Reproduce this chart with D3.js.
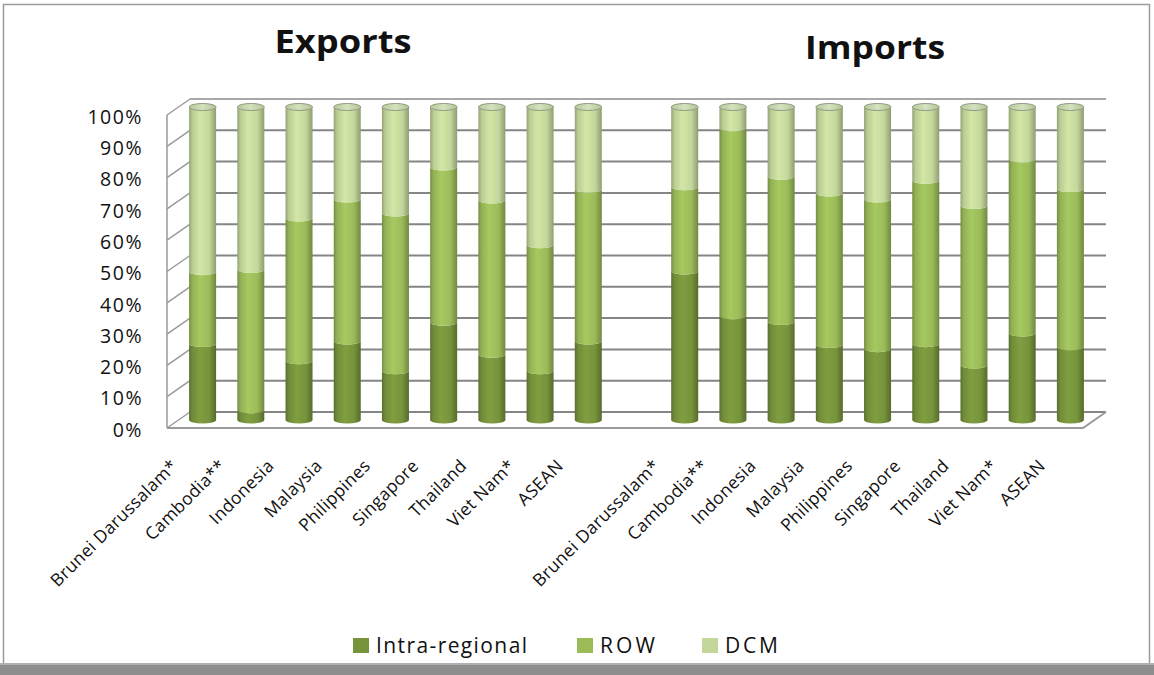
<!DOCTYPE html>
<html>
<head>
<meta charset="utf-8">
<script src="https://cdn.jsdelivr.net/npm/d3@7/dist/d3.min.js"></script>
<style>
  html, body { margin: 0; padding: 0; background: #fff; }
  svg { display: block; }
  text { font-family: "Open Sans", "DejaVu Sans", sans-serif; fill: #111; }
</style>
</head>
<body>
<svg id="chart" width="1154" height="675"></svg>
<script>
// Country groups, one block for exports and one for imports
const countries = ["Brunei Darussalam*", "Cambodia**", "Indonesia", "Malaysia",
                   "Philippines", "Singapore", "Thailand", "Viet Nam*", "ASEAN"];

// Shares of total trade (%), exports
const exportIntra = [24.4, 3.3, 18.9, 25.2, 15.7, 31.2, 21.0, 15.7, 25.2];
const exportROW   = [23.0, 44.8, 45.6, 45.4, 50.4, 49.6, 49.3, 40.3, 48.5];
const exportDCM   = [52.6, 51.9, 35.5, 29.4, 33.9, 19.2, 29.7, 44.0, 26.3];

// Shares of total trade (%), imports
const importIntra = [47.6, 33.3, 31.5, 24.1, 22.8, 24.4, 17.6, 27.8, 23.4];
const importROW   = [26.9, 60.1, 46.4, 48.4, 47.8, 52.2, 50.9, 55.6, 50.5];
const importDCM   = [25.5, 6.6, 22.1, 27.5, 29.4, 23.4, 31.5, 16.6, 26.1];

const seriesNames = ["Intra-regional", "ROW", "DCM"];
const seriesColors = ["#77933c", "#9bbb59", "#c4d79b"];
const yTicks = [0, 10, 20, 30, 40, 50, 60, 70, 80, 90, 100];
const panelTitles = ["Exports", "Imports"];

// Build one row per slot: 9 exports, an empty spacer, 9 imports
const rows = [];
countries.forEach((c, i) => rows.push({ key: "E" + i, label: c, vals: [exportIntra[i], exportROW[i], exportDCM[i]] }));
rows.push({ key: "gap", label: "", vals: null });
countries.forEach((c, i) => rows.push({ key: "I" + i, label: c, vals: [importIntra[i], importROW[i], importDCM[i]] }));

const svg = d3.select("#chart");

// Frame and bottom band
svg.append("rect").attr("x", 3.5).attr("y", 4.5).attr("width", 1146).attr("height", 662)
  .attr("fill", "#fff").attr("stroke", "#9a9a9a").attr("stroke-width", 1.5);
svg.append("rect").attr("x", 0).attr("y", 663).attr("width", 1154).attr("height", 12).attr("fill", "#8e8e8e");
svg.append("rect").attr("x", 0).attr("y", 663).attr("width", 1154).attr("height", 2).attr("fill", "#b0b0b0");

// Pseudo-3D geometry: front plane, back wall offset by depth vector
const depth = { dx: 23, dy: -16 };
const x = d3.scaleBand().domain(rows.map(r => r.key)).range([167, 1083]).paddingInner(0).paddingOuter(0);
const yFront = d3.scaleLinear().domain([0, 100]).range([428, 115]);
const yMid = v => yFront(v) + depth.dy / 2;
const xMid = k => x(k) + x.bandwidth() / 2 + depth.dx / 2;

const grid = svg.append("g");
// Back-wall gridlines
grid.selectAll("line.back").data(yTicks).join("line")
  .attr("x1", 167 + depth.dx).attr("x2", 1083 + depth.dx)
  .attr("y1", d => yFront(d) + depth.dy).attr("y2", d => yFront(d) + depth.dy)
  .attr("stroke", d => d === 100 ? "#a8a8a8" : "#858585").attr("stroke-width", 2);
// Side-wall slanted lines
grid.selectAll("line.side").data(yTicks).join("line")
  .attr("x1", 167).attr("x2", 167 + depth.dx)
  .attr("y1", d => yFront(d)).attr("y2", d => yFront(d) + depth.dy)
  .attr("stroke", "#9a9a9a").attr("stroke-width", 1.5);
// Front-left edge and floor
grid.append("line").attr("x1", 167).attr("x2", 167).attr("y1", yFront(100)).attr("y2", yFront(0))
  .attr("stroke", "#9a9a9a").attr("stroke-width", 1.5);
grid.append("path")
  .attr("d", `M167,${yFront(0)} L1083,${yFront(0)} L${1083 + depth.dx},${yFront(0) + depth.dy}`)
  .attr("fill", "none").attr("stroke", "#9a9a9a").attr("stroke-width", 2);

// Y axis labels
const yAxis = d3.axisLeft(yFront).tickValues(yTicks).tickFormat(d => d + "%").tickSize(0).tickPadding(24);
const ya = svg.append("g").attr("transform", "translate(167,2)").call(yAxis);
ya.select(".domain").remove();
ya.selectAll("text").attr("font-family", "DejaVu Sans, sans-serif").attr("font-size", 19.5)
  .attr("letter-spacing", "1.5px").attr("fill", "#222");

// Cylinder gradients
const defs = svg.append("defs");
seriesColors.forEach((c, i) => {
  const g = defs.append("linearGradient").attr("id", "cyl" + i).attr("x1", 0).attr("x2", 1).attr("y1", 0).attr("y2", 0);
  const base = d3.color(c);
  g.append("stop").attr("offset", 0).attr("stop-color", base.darker(0.8));
  g.append("stop").attr("offset", 0.12).attr("stop-color", base.darker(0.15));
  g.append("stop").attr("offset", 0.4).attr("stop-color", base.brighter(0.2));
  g.append("stop").attr("offset", 0.75).attr("stop-color", base);
  g.append("stop").attr("offset", 1).attr("stop-color", base.darker(0.9));
});
const capGrad = defs.append("linearGradient").attr("id", "cap").attr("x1", 0).attr("x2", 1);
capGrad.append("stop").attr("offset", 0).attr("stop-color", "#b8c99a");
capGrad.append("stop").attr("offset", 0.5).attr("stop-color", "#d6e2c0");
capGrad.append("stop").attr("offset", 1).attr("stop-color", "#b3c493");

// Cylinders
const barW = 27, rx = barW / 2, ry = 3.5;
const bars = svg.append("g").selectAll("g").data(rows.filter(r => r.vals)).join("g");
bars.each(function (r) {
  const g = d3.select(this);
  const cx = xMid(r.key), x0 = cx - rx, x1 = cx + rx;
  let acc = 0;
  r.vals.forEach((v, i) => {
    const yb = yMid(acc), yt = yMid(acc + v);
    acc += v;
    g.append("path")
      .attr("d", `M${x0},${yt} L${x0},${yb} A${rx},${ry} 0 0 0 ${x1},${yb} L${x1},${yt} A${rx},${ry} 0 0 1 ${x0},${yt} Z`)
      .attr("fill", `url(#cyl${i})`);
  });
  g.append("ellipse").attr("cx", cx).attr("cy", yMid(acc)).attr("rx", rx).attr("ry", ry)
    .attr("fill", "url(#cap)").attr("stroke", "#8f9a80").attr("stroke-width", 1);
});

// Category labels, rotated
svg.append("g").selectAll("text").data(rows.filter(r => r.vals)).join("text")
  .attr("transform", r => `translate(${xMid(r.key) - 24},467) rotate(-45)`)
  .attr("text-anchor", "end")
  .attr("font-size", 17.5)
  .attr("letter-spacing", "0.3px")
  .text(r => r.label);

// Panel titles
svg.append("text").attr("x", 343).attr("y", 53).attr("text-anchor", "middle")
  .attr("font-size", 32).attr("font-weight", "bold").attr("textLength", 137).attr("lengthAdjust", "spacingAndGlyphs")
  .text(panelTitles[0]);
svg.append("text").attr("x", 875).attr("y", 59).attr("text-anchor", "middle")
  .attr("font-size", 32).attr("font-weight", "bold").attr("textLength", 140).attr("lengthAdjust", "spacingAndGlyphs")
  .text(panelTitles[1]);

// Legend
const legX = [353, 577, 702];
const legW = [151, 55, 53];
const leg = svg.append("g").selectAll("g").data(seriesNames).join("g")
  .attr("transform", (d, i) => `translate(${legX[i]},638)`);
leg.append("rect").attr("width", 16).attr("height", 15).attr("fill", (d, i) => seriesColors[i]);
leg.append("text").attr("x", 23).attr("y", 15).attr("font-size", 21)
  .attr("textLength", (d, i) => legW[i]).attr("lengthAdjust", "spacing").attr("fill", "#222").text(d => d);
</script>
</body>
</html>
